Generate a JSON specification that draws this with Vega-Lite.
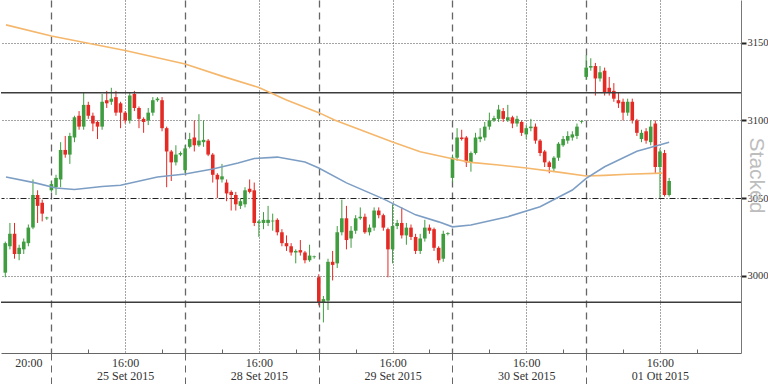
{
  "$schema": "https://vega.github.io/schema/vega-lite/v6.json",
  "width": 740,
  "height": 353,
  "padding": 0,
  "autosize": {"type": "pad"},
  "background": "white",
  "config": {"view": {"stroke": null}},
  "datasets": {
    "candles": [
      {"slot":19,"o":3002,"h":3022,"l":2999,"c":3021},
      {"slot":20,"o":3019,"h":3034,"l":3017,"c":3027},
      {"slot":21,"o":3027,"h":3034,"l":3011,"c":3014},
      {"slot":22,"o":3014,"h":3020,"l":3010,"c":3018},
      {"slot":23,"o":3017,"h":3024,"l":3014,"c":3022},
      {"slot":24,"o":3021,"h":3033,"l":3019,"c":3031},
      {"slot":25,"o":3031,"h":3062,"l":3030,"c":3052},
      {"slot":26,"o":3052,"h":3055,"l":3034,"c":3045},
      {"slot":27,"o":3047,"h":3049,"l":3035,"c":3040},
      {"slot":28,"o":3037,"h":3038,"l":3036,"c":3037.5},
      {"slot":29,"o":3055,"h":3061,"l":3054,"c":3059},
      {"slot":30,"o":3057,"h":3065,"l":3052,"c":3063},
      {"slot":31,"o":3062,"h":3086,"l":3057,"c":3081},
      {"slot":32,"o":3081,"h":3090,"l":3076,"c":3078},
      {"slot":33,"o":3078,"h":3092,"l":3072,"c":3090},
      {"slot":34,"o":3089,"h":3103,"l":3086,"c":3102},
      {"slot":35,"o":3103,"h":3106,"l":3094,"c":3096},
      {"slot":36,"o":3096,"h":3118,"l":3094,"c":3110},
      {"slot":37,"o":3110,"h":3112,"l":3101,"c":3103},
      {"slot":38,"o":3103,"h":3105,"l":3093,"c":3098},
      {"slot":39,"o":3099,"h":3100,"l":3088,"c":3096},
      {"slot":40,"o":3096,"h":3117,"l":3094,"c":3112},
      {"slot":41,"o":3113,"h":3119,"l":3108,"c":3111},
      {"slot":42,"o":3112,"h":3121,"l":3110,"c":3114},
      {"slot":43,"o":3115,"h":3119,"l":3103,"c":3105},
      {"slot":44,"o":3111,"h":3112,"l":3095,"c":3105},
      {"slot":45,"o":3105,"h":3106,"l":3098,"c":3100},
      {"slot":46,"o":3100,"h":3118,"l":3098,"c":3116},
      {"slot":47,"o":3117,"h":3119,"l":3106,"c":3108},
      {"slot":48,"o":3108,"h":3109,"l":3095,"c":3101},
      {"slot":49,"o":3101,"h":3102,"l":3092,"c":3099},
      {"slot":50,"o":3100,"h":3108,"l":3097,"c":3105},
      {"slot":51,"o":3105,"h":3115,"l":3103,"c":3113},
      {"slot":52,"o":3113,"h":3115,"l":3112,"c":3114},
      {"slot":53,"o":3113,"h":3115,"l":3093,"c":3095},
      {"slot":54,"o":3095,"h":3096,"l":3057,"c":3080},
      {"slot":55,"o":3080,"h":3081,"l":3061,"c":3073},
      {"slot":56,"o":3073,"h":3084,"l":3071,"c":3078},
      {"slot":57,"o":3078,"h":3080,"l":3077,"c":3079},
      {"slot":58,"o":3068,"h":3084,"l":3066,"c":3082},
      {"slot":59,"o":3083,"h":3092,"l":3082,"c":3088},
      {"slot":60,"o":3089,"h":3100,"l":3080,"c":3084},
      {"slot":61,"o":3084,"h":3104,"l":3083,"c":3087},
      {"slot":62,"o":3086,"h":3100,"l":3083,"c":3087.5},
      {"slot":63,"o":3087,"h":3088,"l":3077,"c":3078},
      {"slot":64,"o":3078,"h":3079,"l":3060,"c":3065},
      {"slot":65,"o":3065,"h":3066,"l":3050,"c":3062},
      {"slot":66,"o":3062,"h":3072,"l":3060,"c":3064},
      {"slot":67,"o":3060,"h":3062,"l":3048,"c":3053},
      {"slot":68,"o":3054,"h":3055,"l":3042,"c":3052},
      {"slot":69,"o":3052,"h":3054,"l":3042,"c":3046},
      {"slot":70,"o":3045,"h":3050,"l":3043,"c":3048},
      {"slot":71,"o":3046,"h":3057,"l":3044,"c":3055},
      {"slot":72,"o":3056,"h":3062,"l":3053,"c":3054},
      {"slot":73,"o":3055,"h":3060,"l":3032,"c":3034},
      {"slot":74,"o":3034,"h":3036,"l":3025,"c":3035},
      {"slot":75,"o":3034,"h":3041,"l":3030,"c":3036},
      {"slot":76,"o":3034,"h":3045,"l":3032,"c":3036},
      {"slot":77,"o":3035,"h":3040,"l":3029,"c":3035.5},
      {"slot":78,"o":3036,"h":3037,"l":3026,"c":3028},
      {"slot":79,"o":3028,"h":3030,"l":3019,"c":3021},
      {"slot":80,"o":3021,"h":3026,"l":3016,"c":3019},
      {"slot":81,"o":3019,"h":3021,"l":3013,"c":3015},
      {"slot":82,"o":3015,"h":3017,"l":3008,"c":3016},
      {"slot":83,"o":3016.5,"h":3023,"l":3013,"c":3015},
      {"slot":84,"o":3015,"h":3016,"l":3008,"c":3010},
      {"slot":85,"o":3010,"h":3020,"l":3009,"c":3013},
      {"slot":86,"o":3012,"h":3013,"l":3011,"c":3012.5},
      {"slot":87,"o":2999,"h":3001,"l":2981,"c":2982.5},
      {"slot":88,"o":2983,"h":2987,"l":2970,"c":2985},
      {"slot":89,"o":2984,"h":3011,"l":2978,"c":3009},
      {"slot":90,"o":3009,"h":3016,"l":2997,"c":3007},
      {"slot":91,"o":3008,"h":3032,"l":3005,"c":3028},
      {"slot":92,"o":3028,"h":3049,"l":3026,"c":3037},
      {"slot":93,"o":3037,"h":3045,"l":3017,"c":3023},
      {"slot":94,"o":3024,"h":3032,"l":3018,"c":3029},
      {"slot":95,"o":3029,"h":3039,"l":3027,"c":3037},
      {"slot":96,"o":3037,"h":3044,"l":3036,"c":3038},
      {"slot":97,"o":3038,"h":3040,"l":3027,"c":3028},
      {"slot":98,"o":3028,"h":3033,"l":3026,"c":3031},
      {"slot":99,"o":3031,"h":3044,"l":3029,"c":3042},
      {"slot":100,"o":3042,"h":3044,"l":3037,"c":3039},
      {"slot":101,"o":3039,"h":3040,"l":3029,"c":3031},
      {"slot":102,"o":3030,"h":3031,"l":2999,"c":3017},
      {"slot":103,"o":3017,"h":3046,"l":3008,"c":3032},
      {"slot":104,"o":3032,"h":3036,"l":3030,"c":3034},
      {"slot":105,"o":3034,"h":3044,"l":3024,"c":3026},
      {"slot":106,"o":3026,"h":3034,"l":3020,"c":3031},
      {"slot":107,"o":3031,"h":3033,"l":3023,"c":3025},
      {"slot":108,"o":3025,"h":3027,"l":3014,"c":3016},
      {"slot":109,"o":3016,"h":3027,"l":3014,"c":3024},
      {"slot":110,"o":3024,"h":3036,"l":3022,"c":3031},
      {"slot":111,"o":3031,"h":3033,"l":3027,"c":3029},
      {"slot":112,"o":3030,"h":3031,"l":3016,"c":3018},
      {"slot":113,"o":3018,"h":3019,"l":3008,"c":3010},
      {"slot":114,"o":3011,"h":3029,"l":3009,"c":3027},
      {"slot":115,"o":3027,"h":3028,"l":3026,"c":3027.5},
      {"slot":116,"o":3063,"h":3078,"l":3060,"c":3076},
      {"slot":117,"o":3076,"h":3095,"l":3074,"c":3089},
      {"slot":118,"o":3089,"h":3094,"l":3087,"c":3088},
      {"slot":119,"o":3089,"h":3090,"l":3070,"c":3073},
      {"slot":120,"o":3073,"h":3080,"l":3067,"c":3079},
      {"slot":121,"o":3079,"h":3092,"l":3078,"c":3089},
      {"slot":122,"o":3088,"h":3095,"l":3086,"c":3089.5},
      {"slot":123,"o":3089,"h":3099,"l":3087,"c":3096},
      {"slot":124,"o":3096,"h":3105,"l":3094,"c":3100},
      {"slot":125,"o":3100,"h":3103,"l":3099,"c":3101.5},
      {"slot":126,"o":3101,"h":3110,"l":3099,"c":3107},
      {"slot":127,"o":3106,"h":3108,"l":3099,"c":3101},
      {"slot":128,"o":3100,"h":3110,"l":3099,"c":3102},
      {"slot":129,"o":3102,"h":3103,"l":3095,"c":3098},
      {"slot":130,"o":3098,"h":3103,"l":3096,"c":3101},
      {"slot":131,"o":3099,"h":3100,"l":3090,"c":3092},
      {"slot":132,"o":3091,"h":3097,"l":3088,"c":3095},
      {"slot":133,"o":3095,"h":3101,"l":3093,"c":3096},
      {"slot":134,"o":3096,"h":3098,"l":3085,"c":3087},
      {"slot":135,"o":3087,"h":3088,"l":3077,"c":3079},
      {"slot":136,"o":3080,"h":3081,"l":3070,"c":3073},
      {"slot":137,"o":3073,"h":3074,"l":3066,"c":3070},
      {"slot":138,"o":3069,"h":3077,"l":3067,"c":3076},
      {"slot":139,"o":3076,"h":3086,"l":3074,"c":3085},
      {"slot":140,"o":3084,"h":3090,"l":3083,"c":3088},
      {"slot":141,"o":3087,"h":3093,"l":3085,"c":3090},
      {"slot":142,"o":3089,"h":3093,"l":3087,"c":3091},
      {"slot":143,"o":3090,"h":3098,"l":3088,"c":3096},
      {"slot":144,"o":3099,"h":3100,"l":3098,"c":3099.5},
      {"slot":145,"o":3128,"h":3142,"l":3126,"c":3134},
      {"slot":146,"o":3134,"h":3140,"l":3132,"c":3135},
      {"slot":147,"o":3135,"h":3137,"l":3116,"c":3127},
      {"slot":148,"o":3127,"h":3135,"l":3125,"c":3131},
      {"slot":149,"o":3132,"h":3134,"l":3116,"c":3118},
      {"slot":150,"o":3121,"h":3128,"l":3116,"c":3118},
      {"slot":151,"o":3119,"h":3124,"l":3112,"c":3114},
      {"slot":152,"o":3113,"h":3118,"l":3108,"c":3111},
      {"slot":153,"o":3112,"h":3114,"l":3100,"c":3105},
      {"slot":154,"o":3105,"h":3114,"l":3103,"c":3112},
      {"slot":155,"o":3112,"h":3114,"l":3098,"c":3100},
      {"slot":156,"o":3100,"h":3101,"l":3090,"c":3092},
      {"slot":157,"o":3088,"h":3094,"l":3086,"c":3092},
      {"slot":158,"o":3093,"h":3095,"l":3085,"c":3087},
      {"slot":159,"o":3086,"h":3100,"l":3084,"c":3096},
      {"slot":160,"o":3098,"h":3100,"l":3066,"c":3070},
      {"slot":161,"o":3070,"h":3082,"l":3050,"c":3080},
      {"slot":162,"o":3079,"h":3081,"l":3051,"c":3052},
      {"slot":163,"o":3052,"h":3063,"l":3051,"c":3061}
    ],
    "ma": [
      {"series":"lunga","slot":19.15,"value":3161.5},
      {"series":"lunga","slot":29,"value":3154.3},
      {"series":"lunga","slot":45,"value":3145},
      {"series":"lunga","slot":58,"value":3136.3},
      {"series":"lunga","slot":66,"value":3128.5},
      {"series":"lunga","slot":74,"value":3121.2},
      {"series":"lunga","slot":80,"value":3113.1},
      {"series":"lunga","slot":87,"value":3105},
      {"series":"lunga","slot":90.4,"value":3100.3},
      {"series":"lunga","slot":103,"value":3086.1},
      {"series":"lunga","slot":109,"value":3079.8},
      {"series":"lunga","slot":116,"value":3075.3},
      {"series":"lunga","slot":120,"value":3073},
      {"series":"lunga","slot":126,"value":3071.3},
      {"series":"lunga","slot":132,"value":3069.4},
      {"series":"lunga","slot":139,"value":3066.7},
      {"series":"lunga","slot":145,"value":3064.2},
      {"series":"lunga","slot":149,"value":3064.6},
      {"series":"lunga","slot":154,"value":3065.3},
      {"series":"lunga","slot":161.5,"value":3066.1},
      {"series":"breve","slot":19.15,"value":3063.6},
      {"series":"breve","slot":25.5,"value":3059.8},
      {"series":"breve","slot":30,"value":3056.5},
      {"series":"breve","slot":34,"value":3055.5},
      {"series":"breve","slot":40,"value":3057.5},
      {"series":"breve","slot":44,"value":3058.3},
      {"series":"breve","slot":52,"value":3063.6},
      {"series":"breve","slot":58,"value":3065.5},
      {"series":"breve","slot":64,"value":3068.7},
      {"series":"breve","slot":69.5,"value":3072.6},
      {"series":"breve","slot":73,"value":3075.5},
      {"series":"breve","slot":78,"value":3076.4},
      {"series":"breve","slot":84,"value":3073.2},
      {"series":"breve","slot":87,"value":3069.4},
      {"series":"breve","slot":93,"value":3059.8},
      {"series":"breve","slot":101,"value":3049.5},
      {"series":"breve","slot":108,"value":3039.2},
      {"series":"breve","slot":113,"value":3034.7},
      {"series":"breve","slot":116,"value":3031.5},
      {"series":"breve","slot":120,"value":3032.7},
      {"series":"breve","slot":128,"value":3038},
      {"series":"breve","slot":135,"value":3044.5},
      {"series":"breve","slot":142,"value":3055.2},
      {"series":"breve","slot":145,"value":3062.7},
      {"series":"breve","slot":149,"value":3070.2},
      {"series":"breve","slot":156,"value":3080.2},
      {"series":"breve","slot":163,"value":3086}
    ],
    "levels": [
      {"level": 3117.8},
      {"level": 2983}
    ]
  },
  "layer": [
    {
      "data": {"name": "candles"},
      "mark": {"type": "rule", "strokeWidth": 1},
      "encoding": {
        "x": {
          "field": "slot", "type": "quantitative",
          "scale": {"domain": [19.15, 177.5], "nice": false, "zero": false},
          "axis": {
            "values": [24, 29, 37, 45, 53, 58, 66, 74, 82, 87, 95, 103, 111, 116, 124, 132, 140, 145, 153, 161, 169],
            "labelExpr": "datum.value == 24 ? '20:00' : (datum.value % 29 == 16 ? ['16:00', datum.value == 45 ? '25 Set 2015' : datum.value == 74 ? '28 Set 2015' : datum.value == 103 ? '29 Set 2015' : datum.value == 132 ? '30 Set 2015' : '01 Ott 2015'] : '')",
            "labelFont": "Liberation Sans Narrow",
            "labelFontSize": 12,
            "labelColor": "#333333",
            "labelLineHeight": 13,
            "labelPadding": 4,
            "labelOverlap": false,
            "labelFlush": false,
            "labelBound": false,
            "domainColor": "#666666",
            "domainWidth": 1,
            "tickColor": "#666666",
            "tickWidth": 1,
            "tickSize": {"condition": [
              {"test": "datum.value % 29 == 0", "value": 31},
              {"test": "datum.value % 29 == 8 || (datum.value % 29 == 24 && datum.value != 24)", "value": -4}
            ], "value": 0},
            "tickDash": {"condition": {"test": "datum.value % 29 == 0", "value": [7, 5]}, "value": []},
            "tickOpacity": {"condition": {"test": "datum.value % 29 == 16 || datum.value == 24", "value": 0}, "value": 1},
            "grid": true,
            "gridColor": {"condition": {"test": "datum.value % 29 == 0", "value": "#666666"}, "value": "#4a4a4a"},
            "gridDash": {"condition": {"test": "datum.value % 29 == 0", "value": [7, 5]}, "value": [1, 2]},
            "gridWidth": {"condition": {"test": "datum.value % 29 == 0", "value": 1.3}, "value": 1},
            "gridOpacity": {"condition": {"test": "datum.value % 29 == 0 || datum.value % 29 == 16", "value": 1}, "value": 0},
            "title": null
          }
        },
        "y": {
          "field": "l", "type": "quantitative",
          "scale": {"domain": [2950.3, 3177.5], "nice": false, "zero": false},
          "axis": {
            "orient": "right",
            "values": [3000, 3050, 3100, 3150],
            "format": "d",
            "grid": true,
            "gridColor": {"condition": {"test": "datum.value == 3050", "value": "#222222"}, "value": "#4a4a4a"},
            "gridDash": {"condition": {"test": "datum.value == 3050", "value": [6, 2, 1, 2]}, "value": [1, 2]},
            "domainColor": "#777777",
            "tickColor": "#222222",
            "tickSize": 5,
            "tickWidth": 2,
            "labelFont": "Liberation Sans Narrow",
            "labelFontSize": 10.5,
            "labelColor": "#333333",
            "labelPadding": 1,
            "title": "Stacked",
            "titleFont": "Liberation Sans",
            "titleFontSize": 21,
            "titleFontWeight": "normal",
            "titleColor": "#bdbdbd",
            "titleAngle": 90,
            "titleX": 14,
            "titleY": 175,
            "titleAlign": "center",
            "titleBaseline": "middle"
          }
        },
        "y2": {"field": "h"},
        "color": {"condition": {"test": "datum.c >= datum.o", "value": "#3f9c3f"}, "value": "#e42a24"}
      }
    },
    {
      "data": {"name": "candles"},
      "mark": {"type": "bar", "size": 3.6},
      "encoding": {
        "x": {"field": "slot", "type": "quantitative", "axis": null},
        "y": {"field": "o", "type": "quantitative", "axis": null},
        "y2": {"field": "c"},
        "color": {"condition": {"test": "datum.c >= datum.o", "value": "#3f9c3f"}, "value": "#e42a24"}
      }
    },
    {
      "data": {"name": "levels"},
      "mark": {"type": "rule", "color": "#3c3c3c", "strokeWidth": 1.5},
      "encoding": {
        "y": {"field": "level", "type": "quantitative", "axis": null}
      }
    },
    {
      "data": {"name": "ma"},
      "mark": {"type": "line", "strokeWidth": 1.6},
      "encoding": {
        "x": {"field": "slot", "type": "quantitative", "axis": null},
        "y": {"field": "value", "type": "quantitative", "axis": null},
        "color": {"field": "series", "type": "nominal", "scale": {"domain": ["lunga", "breve"], "range": ["#f5b76c", "#7d9ec4"]}, "legend": null}
      }
    }
  ],
  "resolve": {"axis": {"x": "independent", "y": "independent"}}
}
